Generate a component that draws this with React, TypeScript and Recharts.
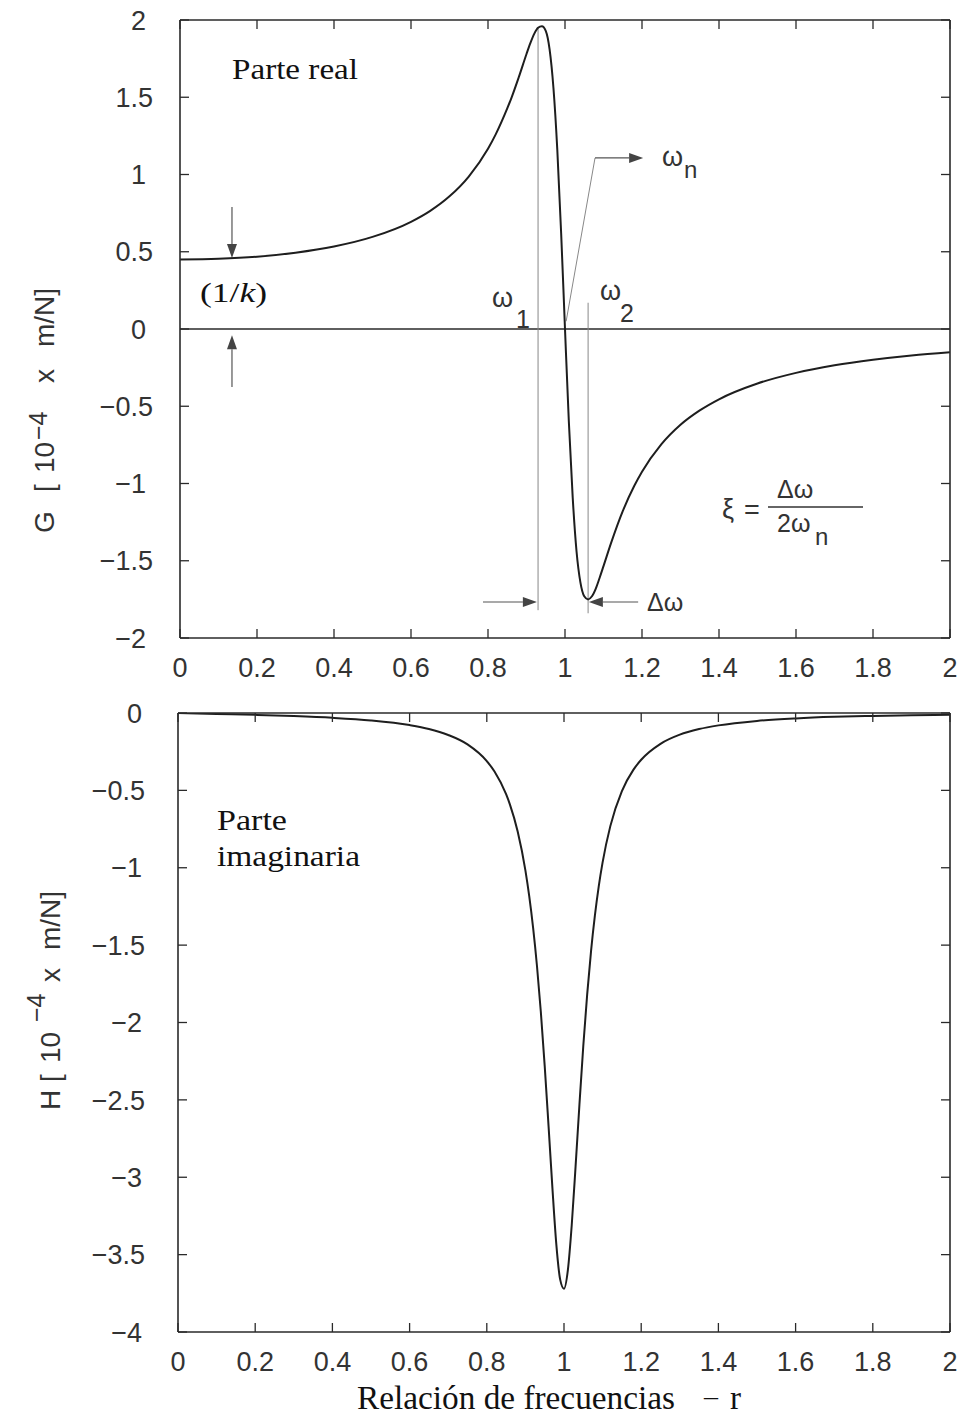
import React from "react";
import { LineChart, Line, XAxis, YAxis, ReferenceLine } from "recharts";

// frequency ratio r and the two parts of the receptance (x 1e-4 m/N)
const freqRatio = [
  0, 0.1, 0.2, 0.3, 0.4, 0.5, 0.6, 0.65, 0.7, 0.75,
  0.8, 0.82, 0.85, 0.86, 0.88, 0.9, 0.91, 0.92, 0.93, 0.94,
  0.95, 0.96, 0.97, 0.98, 0.99, 1.0, 1.01, 1.02, 1.03, 1.04,
  1.05, 1.06, 1.07, 1.08, 1.09, 1.1, 1.12, 1.15, 1.18, 1.2,
  1.25, 1.3, 1.35, 1.4, 1.5, 1.6, 1.7, 1.8, 1.9, 2.0,
];
const realPart = [
  0.45, 0.455, 0.468, 0.494, 0.534, 0.596, 0.694, 0.765, 0.859, 0.987,
  1.167, 1.26, 1.428, 1.49, 1.63, 1.78, 1.85, 1.91, 1.95, 1.96,
  1.93, 1.81, 1.56, 1.16, 0.62, 0, -0.6, -1.09, -1.44, -1.64,
  -1.73, -1.75, -1.73, -1.68, -1.61, -1.535, -1.383, -1.179, -1.015, -0.924,
  -0.747, -0.62, -0.527, -0.455, -0.353, -0.284, -0.235, -0.199, -0.171, -0.15,
];
const imagPart = [
  0, -0.006, -0.012, -0.02, -0.031, -0.048, -0.078, -0.103, -0.142, -0.203,
  -0.311, -0.378, -0.525, -0.592, -0.766, -1.017, -1.185, -1.388, -1.635, -1.932,
  -2.28, -2.67, -3.07, -3.43, -3.66, -3.72, -3.6, -3.31, -2.93, -2.53,
  -2.15, -1.82, -1.54, -1.31, -1.12, -0.965, -0.731, -0.505, -0.366, -0.302,
  -0.199, -0.14, -0.104, -0.08, -0.051, -0.035, -0.025, -0.019, -0.015, -0.012,
];

const xTicks = [0, 0.2, 0.4, 0.6, 0.8, 1, 1.2, 1.4, 1.6, 1.8, 2];
const gTicks = [-2, -1.5, -1, -0.5, 0, 0.5, 1, 1.5, 2];
const hTicks = [-4, -3.5, -3, -2.5, -2, -1.5, -1, -0.5, 0];

// annotation positions (data units)
const omega1 = 0.93;
const omega2 = 1.06;

const chartData = freqRatio.map((r, i) => ({ r, g: realPart[i], h: imagPart[i] }));

const SANS = '"Liberation Sans", Arial, Helvetica, sans-serif';
const SERIF = '"Liberation Serif", "Times New Roman", serif';
const INK = "#2a2a2a";
const TICK_LEN = 9;

const fmt = (v: number) => (v < 0 ? "\u2212" + String(-v) : String(v));

const BottomTick = (props: any) => {
  const { x, y, payload } = props;
  return (
    <g>
      <line x1={x} y1={y} x2={x} y2={y - TICK_LEN} stroke={INK} strokeWidth={1.3} />
      <text x={x} y={y + 39} textAnchor="middle" fontFamily={SANS} fontSize={27} fill="#333">
        {fmt(payload.value)}
      </text>
    </g>
  );
};

const makeLeftTick = (decOff: number, intOff: number) => (props: any) => {
  const { x, y, payload } = props;
  const off = Number.isInteger(payload.value) ? intOff : decOff;
  return (
    <g>
      <line x1={x} y1={y} x2={x + TICK_LEN} y2={y} stroke={INK} strokeWidth={1.3} />
      <text x={x - off} y={y} dy="0.36em" textAnchor="end" fontFamily={SANS} fontSize={27} fill="#333">
        {fmt(payload.value)}
      </text>
    </g>
  );
};

const TopTick = (props: any) => {
  const { x, y } = props;
  return <line x1={x} y1={y} x2={x} y2={y + TICK_LEN} stroke={INK} strokeWidth={1.3} />;
};

const RightTick = (props: any) => {
  const { x, y } = props;
  return <line x1={x} y1={y} x2={x - TICK_LEN} y2={y} stroke={INK} strokeWidth={1.3} />;
};

const ArrowShape = (props: any) => {
  const { x1, y1, x2, y2 } = props;
  const ang = Math.atan2(y2 - y1, x2 - x1);
  const L = 14;
  const W = 5;
  const bx = x2 - L * Math.cos(ang);
  const by = y2 - L * Math.sin(ang);
  const px = -Math.sin(ang) * W;
  const py = Math.cos(ang) * W;
  return (
    <g>
      <line x1={x1} y1={y1} x2={bx} y2={by} stroke="#555" strokeWidth={1.2} />
      <polygon points={`${x2},${y2} ${bx + px},${by + py} ${bx - px},${by - py}`} fill="#444" />
    </g>
  );
};

const axisLine = { stroke: INK, strokeWidth: 1.6 };

export default function App() {
  const commonX = {
    type: "number" as const,
    dataKey: "r",
    domain: [0, 2] as [number, number],
    ticks: xTicks,
    interval: 0 as const,
    allowDataOverflow: true,
    tickSize: 0,
    tickMargin: 0,
    tickLine: false,
    axisLine,
    height: 1,
  };
  const commonY = {
    type: "number" as const,
    interval: 0 as const,
    allowDataOverflow: true,
    width: 1,
    tickSize: 0,
    tickMargin: 0,
    tickLine: false,
    axisLine,
  };

  return (
    <div style={{ position: "absolute", left: 0, top: 0, width: 970, height: 1421, background: "#fff" }}>
      {/* real part */}
      <div style={{ position: "absolute", left: 0, top: 0 }}>
        <LineChart width={970} height={700} data={chartData} margin={{ top: 19, right: 19, bottom: 61, left: 179 }}>
          <XAxis {...commonX} tick={BottomTick} />
          <XAxis {...commonX} xAxisId="top" orientation="top" tick={TopTick} />
          <YAxis {...commonY} domain={[-2, 2]} ticks={gTicks} tick={makeLeftTick(27, 34)} />
          <YAxis {...commonY} yAxisId="right" orientation="right" domain={[-2, 2]} ticks={gTicks} tick={RightTick} />
          <ReferenceLine y={0} stroke={INK} strokeWidth={1.4} />
          <ReferenceLine
            segment={[{ x: omega1, y: 1.955 }, { x: omega1, y: -1.82 }]}
            stroke="#888"
            strokeWidth={1}
            ifOverflow="visible"
          />
          <ReferenceLine
            segment={[{ x: omega2, y: 0.17 }, { x: omega2, y: -1.84 }]}
            stroke="#888"
            strokeWidth={1}
            ifOverflow="visible"
          />
          <ReferenceLine
            segment={[{ x: 1.003, y: 0.05 }, { x: 1.078, y: 1.107 }]}
            stroke="#888"
            strokeWidth={1}
            ifOverflow="visible"
          />
          <ReferenceLine segment={[{ x: 1.078, y: 1.107 }, { x: 1.203, y: 1.107 }]} shape={ArrowShape} ifOverflow="visible" />
          <ReferenceLine segment={[{ x: 0.135, y: 0.79 }, { x: 0.135, y: 0.46 }]} shape={ArrowShape} ifOverflow="visible" />
          <ReferenceLine segment={[{ x: 0.135, y: -0.375 }, { x: 0.135, y: -0.04 }]} shape={ArrowShape} ifOverflow="visible" />
          <ReferenceLine segment={[{ x: 0.787, y: -1.767 }, { x: 0.927, y: -1.767 }]} shape={ArrowShape} ifOverflow="visible" />
          <ReferenceLine segment={[{ x: 1.19, y: -1.767 }, { x: 1.062, y: -1.767 }]} shape={ArrowShape} ifOverflow="visible" />
          <Line type="monotone" dataKey="g" stroke="#1e1e1e" strokeWidth={2} dot={false} isAnimationActive={false} />
        </LineChart>
      </div>

      {/* imaginary part */}
      <div style={{ position: "absolute", left: 0, top: 680 }}>
        <LineChart width={970} height={741} data={chartData} margin={{ top: 32, right: 19, bottom: 88, left: 177 }}>
          <XAxis {...commonX} tick={BottomTick} />
          <XAxis {...commonX} xAxisId="top" orientation="top" tick={TopTick} />
          <YAxis {...commonY} domain={[-4, 0]} ticks={hTicks} tick={makeLeftTick(33, 36)} />
          <YAxis {...commonY} yAxisId="right" orientation="right" domain={[-4, 0]} ticks={hTicks} tick={RightTick} />
          <Line type="monotone" dataKey="h" stroke="#1e1e1e" strokeWidth={2} dot={false} isAnimationActive={false} />
        </LineChart>
      </div>

      {/* text annotations */}
      <svg width={970} height={1421} style={{ position: "absolute", left: 0, top: 0, pointerEvents: "none" }}>
        <g fontFamily={SERIF} fill="#111">
          <text x={232} y={79} fontSize={29} textLength={126} lengthAdjust="spacingAndGlyphs">Parte real</text>
          <text x={200} y={302} fontSize={27} textLength={67} lengthAdjust="spacingAndGlyphs">
            (1/<tspan fontStyle="italic">k</tspan>)
          </text>
          <text x={217} y={830} fontSize={29} textLength={70} lengthAdjust="spacingAndGlyphs">Parte</text>
          <text x={217} y={866} fontSize={29} textLength={143} lengthAdjust="spacingAndGlyphs">imaginaria</text>
          <text x={357} y={1409} fontSize={34} textLength={318} lengthAdjust="spacingAndGlyphs">Relación de frecuencias</text>
          <text x={704} y={1405} fontSize={28}>–</text>
          <text x={730} y={1409} fontSize={33}>r</text>
        </g>
        <g fontFamily={SANS} fill="#333">
          <text x={492} y={307} fontSize={27}>ω</text>
          <text x={516} y={328} fontSize={25}>1</text>
          <text x={600} y={300} fontSize={27}>ω</text>
          <text x={620} y={322} fontSize={25}>2</text>
          <text x={662} y={166} fontSize={27}>ω</text>
          <text x={684} y={178} fontSize={24}>n</text>
          <text x={647} y={611} fontSize={25}>Δω</text>

          <text x={722} y={518} fontSize={27}>ξ</text>
          <text x={744} y={519} fontSize={27}>=</text>
          <line x1={768} y1={507} x2={863} y2={507} stroke="#333" strokeWidth={1.4} />
          <text x={777} y={498} fontSize={25}>Δω</text>
          <text x={777} y={532} fontSize={25}>2ω</text>
          <text x={815} y={545} fontSize={24}>n</text>

          <text transform="translate(54,533) rotate(-90)" fontSize={28}>
            <tspan x={0} y={0}>G</tspan>
            <tspan x={41} y={0}>[</tspan>
            <tspan x={60} y={0}>10</tspan>
            <tspan x={93} y={-7} fontSize={25}>−4</tspan>
            <tspan x={150} y={0}>x</tspan>
            <tspan x={186} y={0}>m/N]</tspan>
          </text>
          <text transform="translate(60,1110) rotate(-90)" fontSize={28}>
            <tspan x={0} y={0}>H</tspan>
            <tspan x={28} y={0}>[</tspan>
            <tspan x={47} y={0}>10</tspan>
            <tspan x={88} y={-15} fontSize={25}>−4</tspan>
            <tspan x={128} y={0}>x</tspan>
            <tspan x={160} y={0}>m/N]</tspan>
          </text>
        </g>
      </svg>
    </div>
  );
}
